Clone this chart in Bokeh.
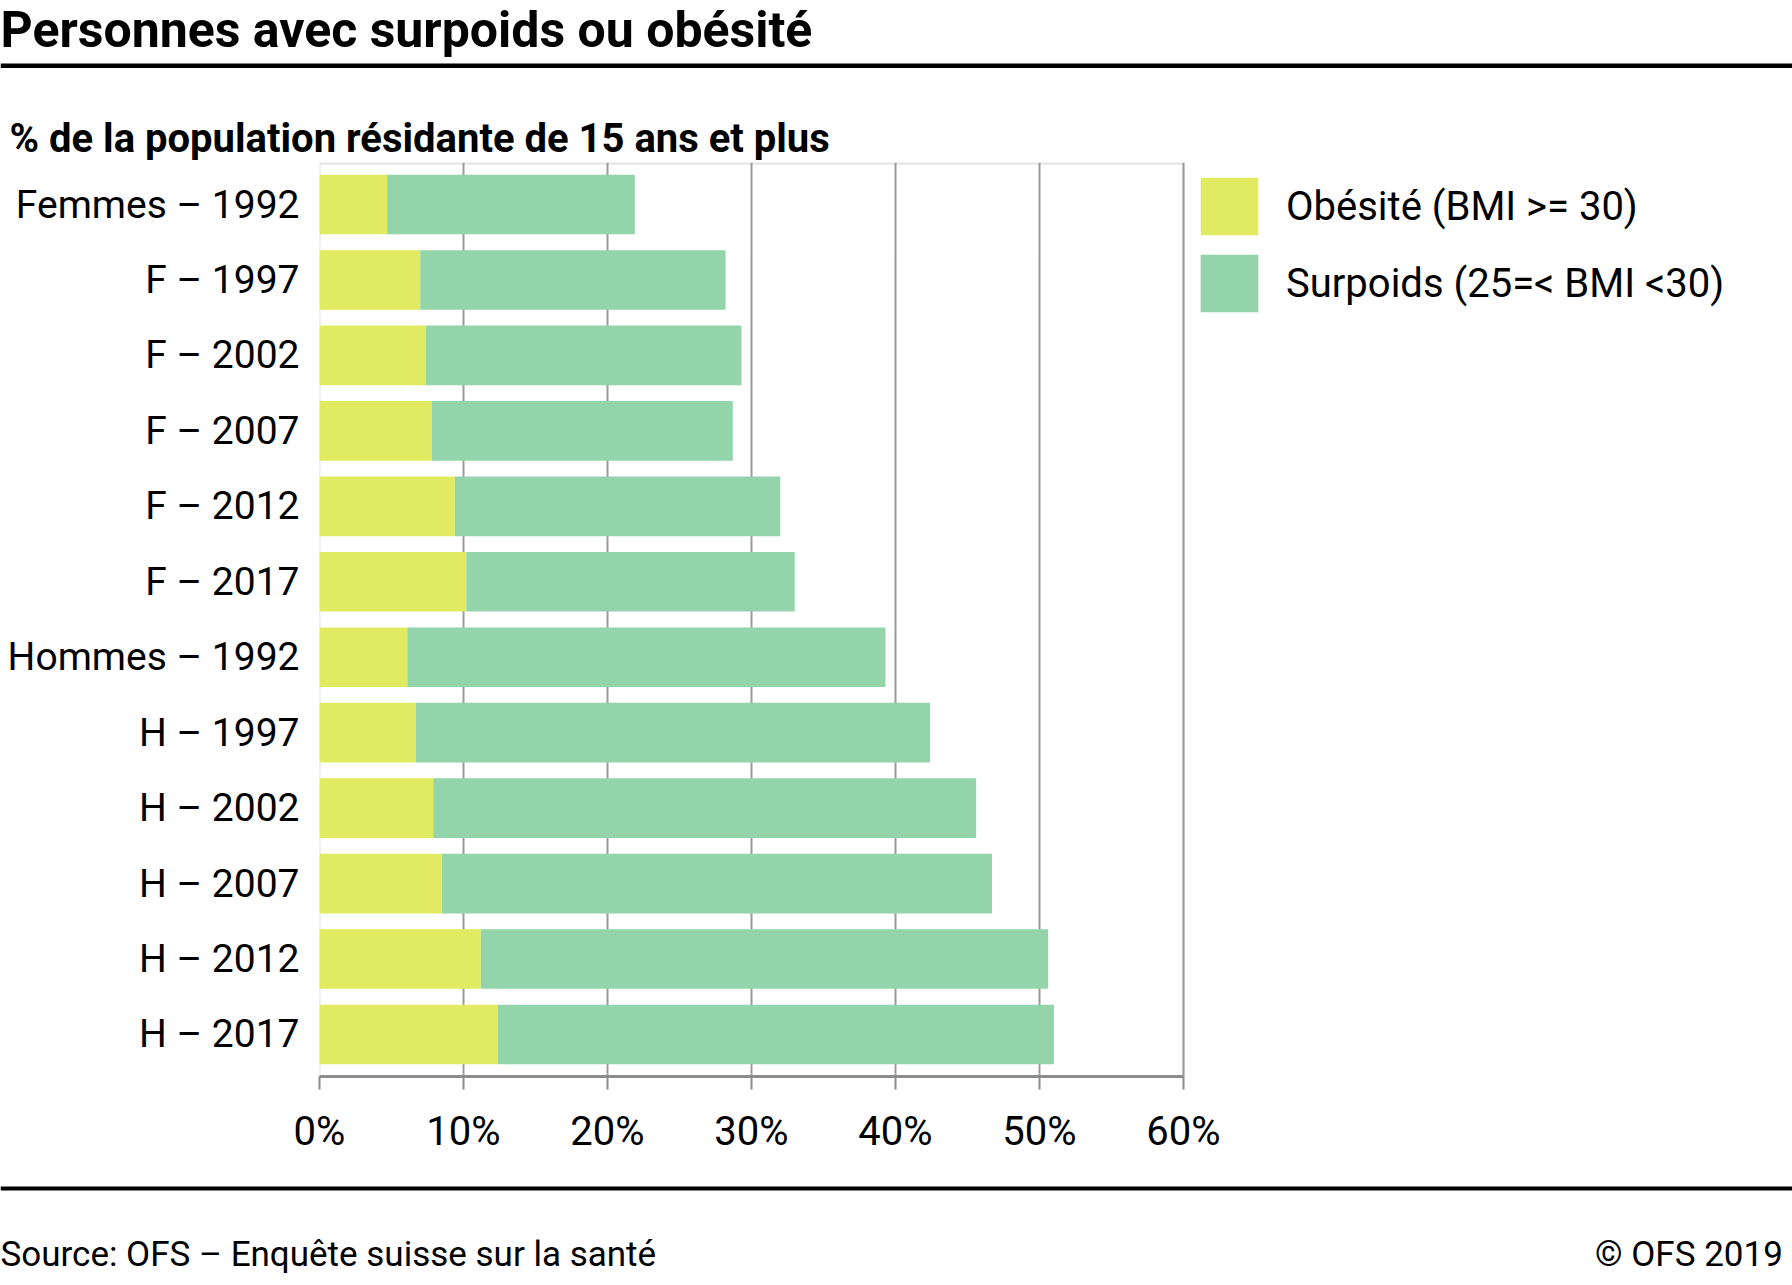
from bokeh.plotting import figure
from bokeh.layouts import column, row
from bokeh.models import (ColumnDataSource, FactorRange, Range1d, FixedTicker,
                          Legend, LegendItem, Label, BoxAnnotation)
from bokeh.embed import file_html
from bokeh.resources import INLINE

# ---------------- data ----------------
categories = ["Femmes – 1992", "F – 1997", "F – 2002", "F – 2007", "F – 2012", "F – 2017",
              "Hommes – 1992", "H – 1997", "H – 2002", "H – 2007", "H – 2012", "H – 2017"]
obesite = [4.7, 7.0, 7.4, 7.8, 9.4, 10.2, 6.1, 6.7, 7.9, 8.5, 11.2, 12.4]
surpoids = [17.2, 21.2, 21.9, 20.9, 22.6, 22.8, 33.2, 35.7, 37.7, 38.2, 39.4, 38.6]
series_names = ["Obésité (BMI >= 30)", "Surpoids (25=< BMI <30)"]
x_ticks = [0, 10, 20, 30, 40, 50, 60]
tick_labels = ["0%", "10%", "20%", "30%", "40%", "50%", "60%"]

title_text = "Personnes avec surpoids ou obésité"
subtitle_text = "% de la population résidante de 15 ans et plus"
source_text = "Source: OFS – Enquête suisse sur la santé"
copyright_text = "© OFS  2019"

# ---------------- style / layout constants ----------------
YELLOW = "#e1eb61"
GREEN = "#93d4aa"
GRAY = "#9a9a9a"
AXIS_GRAY = "#8c8c8c"
FONT = "Roboto"
W = 1792
HH, MH = 162, 1008           # header / main heights
FH = 1285 - HH - MH          # footer height
FRAME_L, FRAME_R = 319, 1183  # where 0% and 60% sit
FRAME_H = 914
PAD = 0.057


def blank_fig(w, h):
    f = figure(width=w, height=h, x_range=Range1d(0, w), y_range=Range1d(h, 0),
               x_axis_type=None, y_axis_type=None, output_backend="svg",
               toolbar_location=None, min_border=0)
    f.outline_line_color = None
    f.background_fill_color = "white"
    f.border_fill_color = "white"
    return f


def text(f, t, x, y, size, bold=False, align="left"):
    f.add_layout(Label(x=x, y=y, text=t, text_font=FONT, text_font_size=size,
                       text_font_style="bold" if bold else "normal",
                       text_color="#000000", text_align=align,
                       text_baseline="middle"))


def rule(f, y0, y1):
    f.add_layout(BoxAnnotation(left=0, right=W, top=y0, bottom=y1,
                               fill_color="#000000", fill_alpha=1.0,
                               line_color=None))


# ---------------- header ----------------
header = blank_fig(W, HH)
text(header, title_text, 0, 29.5, "50px", bold=True)
rule(header, 63, 67.5)
text(header, subtitle_text, 9, 137.5, "40px", bold=True)

# ---------------- main chart ----------------
src = ColumnDataSource(dict(cat=categories, obesite=obesite, surpoids=surpoids))
x_end = x_ticks[-1] * (W - FRAME_L) / (FRAME_R - FRAME_L)
p = figure(width=W, height=MH,
           y_range=FactorRange(factors=categories[::-1], range_padding=PAD,
                               range_padding_units="absolute"),
           x_range=Range1d(0, x_end),
           output_backend="svg", toolbar_location=None,
           min_border_left=FRAME_L, min_border_right=0,
           min_border_top=0, min_border_bottom=MH - FRAME_H)
p.background_fill_color = "white"
p.border_fill_color = "white"
p.outline_line_color = None

rs = p.hbar_stack(["obesite", "surpoids"], y="cat", height=0.79, source=src,
                  fill_color=[YELLOW, GREEN], line_color=None)

# plot box (top / right edges) limited to the 0..60 % region
p.add_layout(BoxAnnotation(left=x_ticks[0], right=x_ticks[-1],
                           top=len(categories) + PAD - 0.012, bottom=None,
                           fill_alpha=0, line_color=GRAY, line_width=2,
                           level="underlay"))

p.xaxis.ticker = FixedTicker(ticks=x_ticks)
p.xaxis.bounds = (x_ticks[0], x_ticks[-1])
p.xaxis.major_label_overrides = {t: l for t, l in zip(x_ticks, tick_labels)}
p.xaxis.axis_line_color = AXIS_GRAY
p.xaxis.axis_line_width = 3
p.xaxis.major_tick_line_color = AXIS_GRAY
p.xaxis.major_tick_line_width = 2
p.xaxis.major_tick_out = 13
p.xaxis.major_tick_in = 0
p.xaxis.minor_tick_line_color = None
p.xaxis.major_label_text_font = FONT
p.xaxis.major_label_text_font_size = "40px"
p.xaxis.major_label_text_color = "#000000"
p.xaxis.major_label_standoff = 18

p.yaxis.axis_line_color = None
p.yaxis.major_tick_line_color = None
p.yaxis.minor_tick_line_color = None
p.yaxis.major_label_text_font = FONT
p.yaxis.major_label_text_font_size = "39px"
p.yaxis.major_label_text_color = "#000000"
p.yaxis.major_label_standoff = 14

p.ygrid.grid_line_color = None
p.xgrid.ticker = FixedTicker(ticks=x_ticks)
p.xgrid.grid_line_color = GRAY
p.xgrid.grid_line_width = 2

legend = Legend(items=[LegendItem(label=series_names[0], renderers=[rs[0]]),
                       LegendItem(label=series_names[1], renderers=[rs[1]])],
                location=(1193 - FRAME_L, FRAME_H - (170 - HH) - 149),
                orientation="vertical",
                glyph_width=72, glyph_height=72, label_standoff=21, spacing=5,
                padding=0, margin=0, border_line_color=None,
                background_fill_alpha=0,
                label_text_font=FONT, label_text_font_size="40px",
                label_text_color="#000000")
p.add_layout(legend)

# ---------------- footer ----------------
footer = blank_fig(W, FH)
rule(footer, 16, 20)
text(footer, source_text, 0, 84, "35px")
text(footer, copyright_text, W - 1, 84, "35px", align="right")

layout = column(header, row(p), footer, spacing=0)

open("out.html", "w").write(file_html(layout, INLINE))
